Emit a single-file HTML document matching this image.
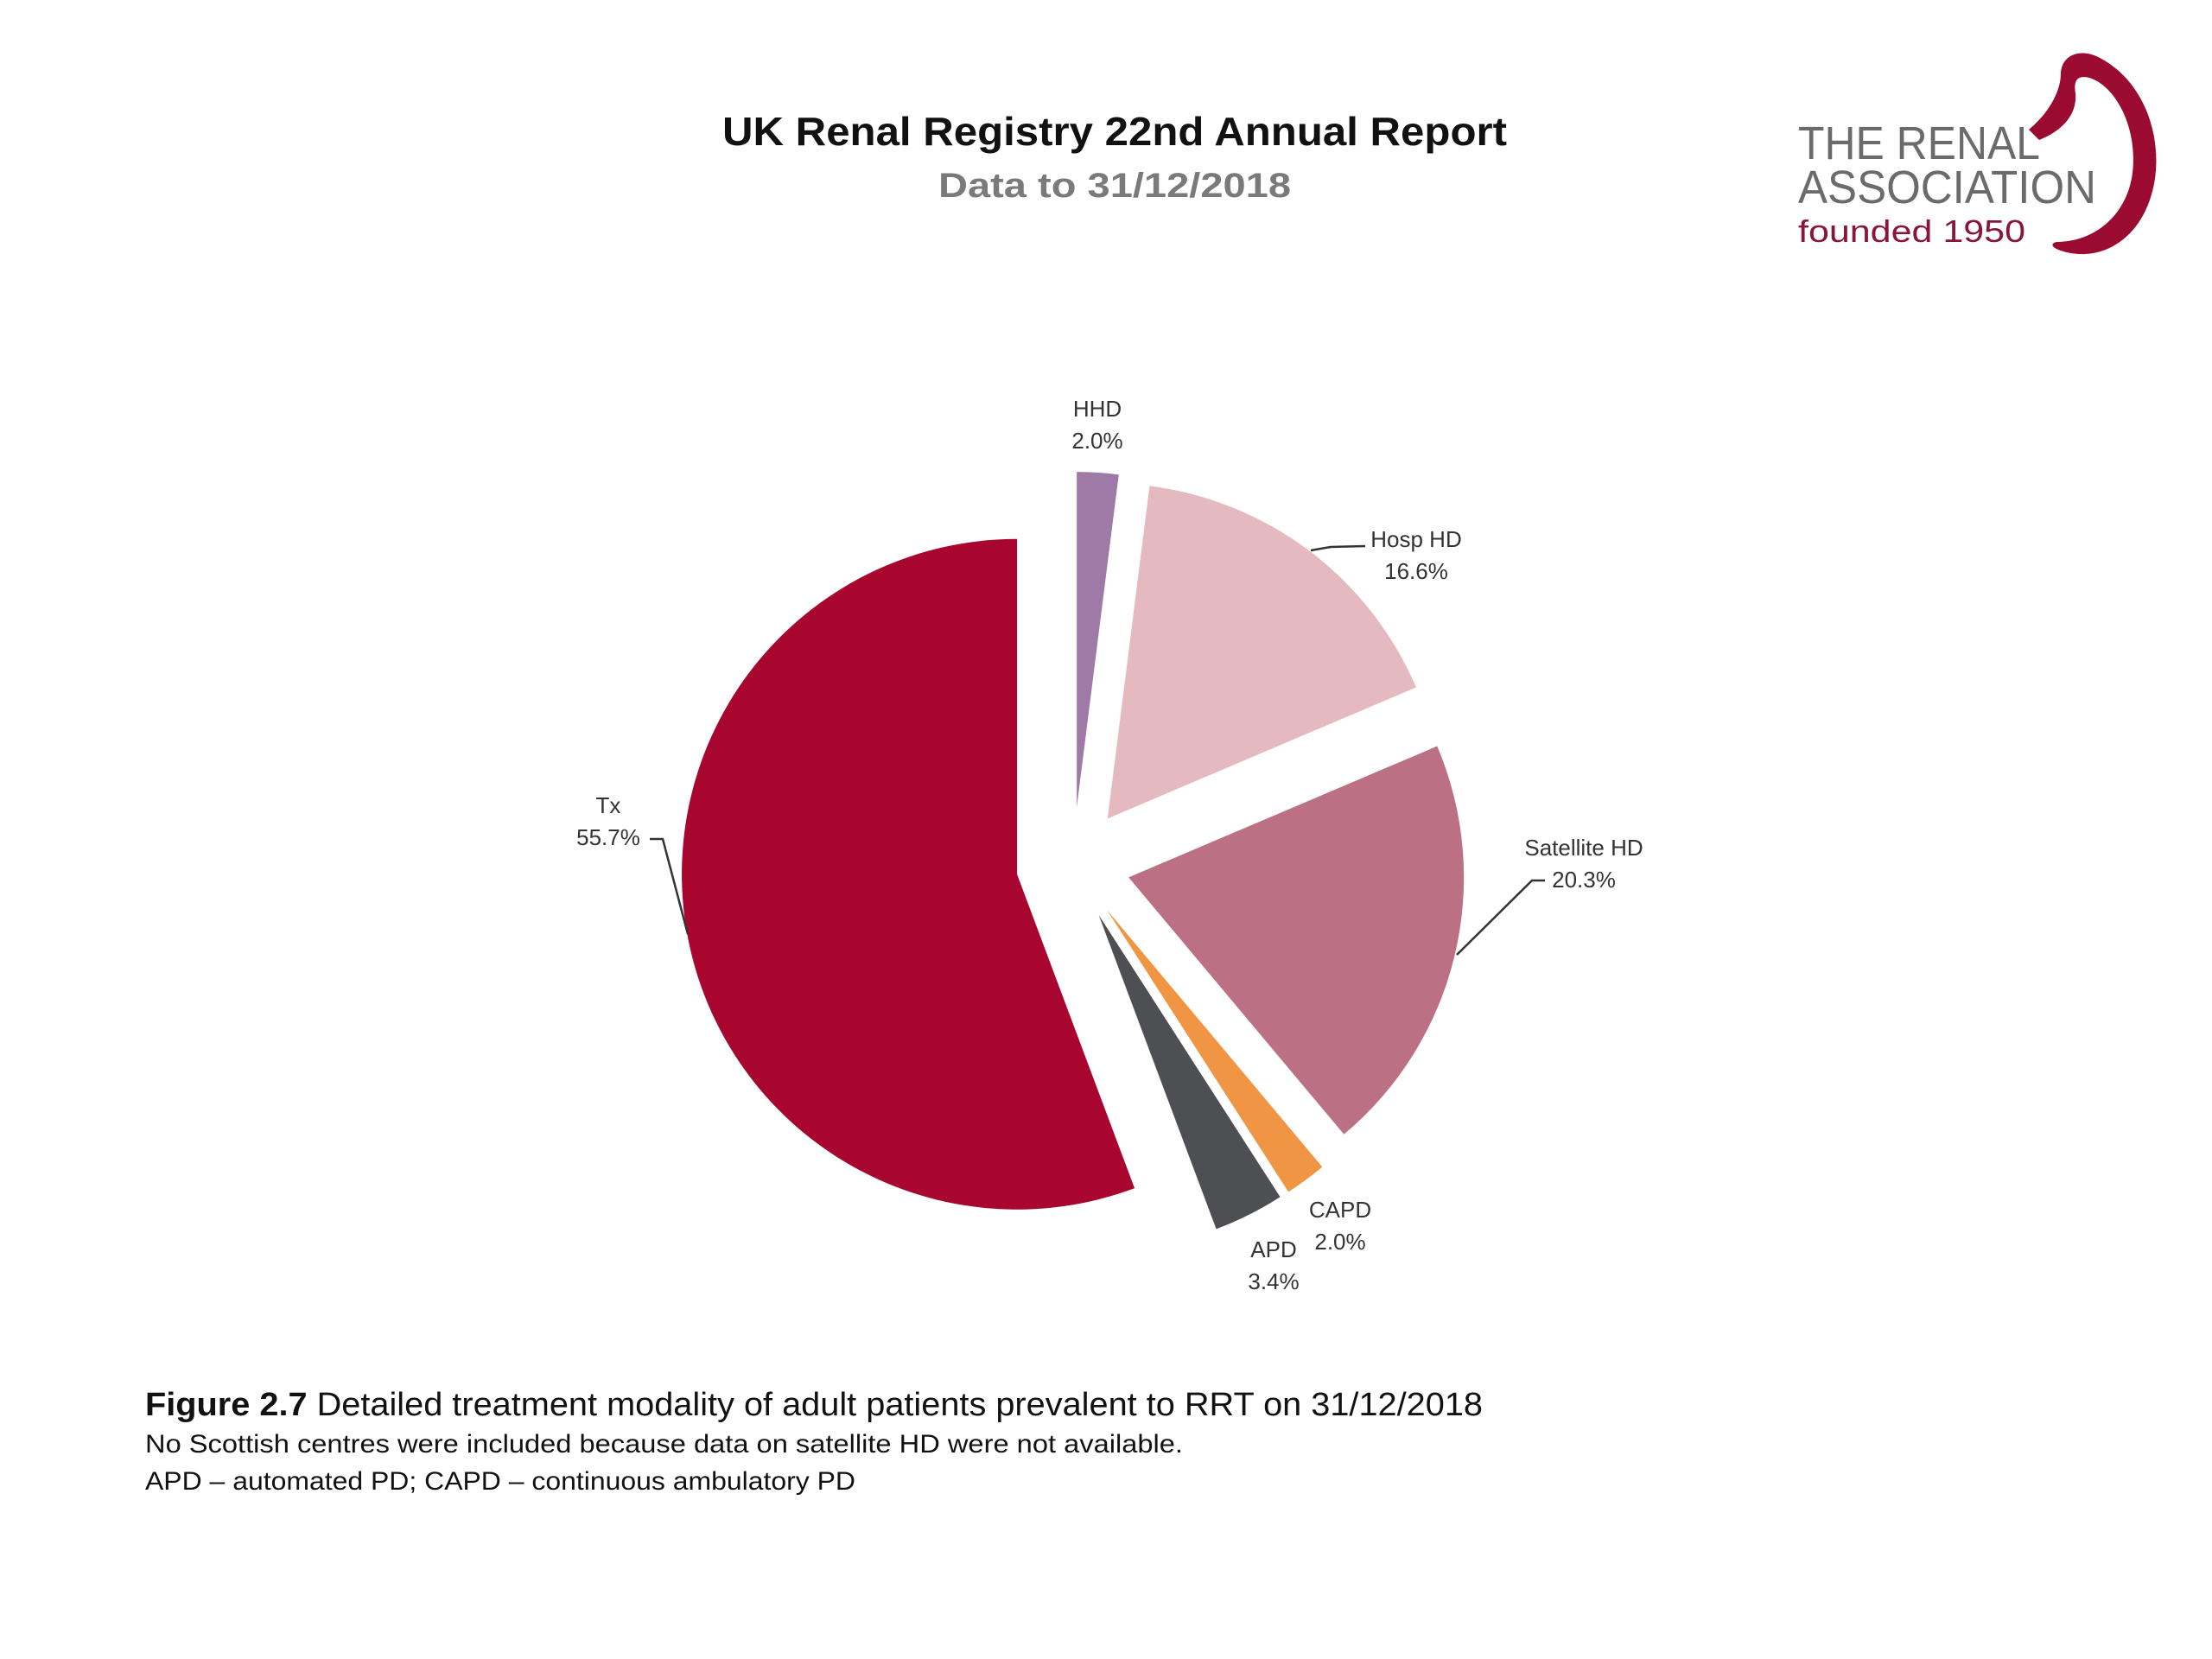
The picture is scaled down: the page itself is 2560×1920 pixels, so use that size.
<!DOCTYPE html>
<html><head><meta charset="utf-8"><style>
html,body{margin:0;padding:0;background:#fff;}
svg{display:block;font-family:"Liberation Sans",sans-serif;}
</style></head><body>
<svg id="chart" width="2560" height="1920" viewBox="0 0 2560 1920" xmlns="http://www.w3.org/2000/svg">
<rect width="2560" height="1920" fill="#fff"/>
<text x="1290" y="168" font-size="46" font-weight="bold" text-anchor="middle" textLength="908" lengthAdjust="spacingAndGlyphs" fill="#111">UK Renal Registry 22nd Annual Report</text>
<text x="1290" y="228" font-size="40" font-weight="bold" text-anchor="middle" textLength="408" lengthAdjust="spacingAndGlyphs" fill="#7a7a7a">Data to 31/12/2018</text>
<g>
<path d="M2348,150 C2372,130 2385,105 2385,85 C2386,62 2410,55 2432,68 C2490,100 2505,175 2490,225 C2475,278 2430,305 2385,290 C2375,287 2372,282 2380,280 C2425,280 2462,248 2468,200 C2474,150 2450,100 2418,90 C2402,86 2400,96 2402,108 C2404,130 2390,150 2360,162 Z" fill="#9b0a30"/>
<text x="2081" y="184" font-size="54" textLength="280" lengthAdjust="spacingAndGlyphs" fill="#6b6b6b">THE RENAL</text>
<text x="2081" y="235" font-size="54" textLength="345" lengthAdjust="spacingAndGlyphs" fill="#6b6b6b">ASSOCIATION</text>
<text x="2081" y="280" font-size="36" textLength="263" lengthAdjust="spacingAndGlyphs" fill="#8a1538">founded 1950</text>
</g>
<g id="pie"></g>
<g id="labels" font-size="26" fill="#333" text-anchor="middle"></g>
<g stroke="#333" stroke-width="2.5" fill="none">
<polyline points="752,971 767,971 796,1081"/>
<polyline points="1517,637 1540,633 1580,632"/>
<polyline points="1686,1105 1773,1019 1788,1019"/>
</g>
<g fill="#111">
<text x="168" y="1638" font-size="38" textLength="1548" lengthAdjust="spacingAndGlyphs"><tspan font-weight="bold">Figure 2.7</tspan> Detailed treatment modality of adult patients prevalent to RRT on 31/12/2018</text>
<text x="168" y="1681" font-size="30" textLength="1201" lengthAdjust="spacingAndGlyphs">No Scottish centres were included because data on satellite HD were not available.</text>
<text x="168" y="1724" font-size="30" textLength="822" lengthAdjust="spacingAndGlyphs">APD – automated PD; CAPD – continuous ambulatory PD</text>
</g>
</svg>
<script>
const categories = ["HHD", "Hosp HD", "Satellite HD", "CAPD", "APD", "Tx"];
const values = [2.0, 16.6, 20.3, 2.0, 3.4, 55.7];
const valueLabels = ["2.0%", "16.6%", "20.3%", "2.0%", "3.4%", "55.7%"];
const colors = ["#a07aa6", "#e4bac0", "#bc7084", "#ef9544", "#4d4f53", "#a8062f"];
const labelPos = [[1270,482],[1639,633],[1833,990],[1551,1409],[1474,1455],[704,941]];

const NS = "http://www.w3.org/2000/svg";
const cx = 1242, cy = 1000, R = 388, EXPL = 66;
const total = values.reduce((a,b)=>a+b,0);
function angleOf(v){ return v/total*2*Math.PI; }
function pt(x,y,a,r){ return [x+r*Math.sin(a), y-r*Math.cos(a)]; }
const pie = document.getElementById('pie');
const labels = document.getElementById('labels');
let start = 0;
values.forEach((v,i)=>{
  const sweep = angleOf(v);
  const end = start + sweep;
  const mid = (start+end)/2;
  const ox = cx + EXPL*Math.sin(mid), oy = cy - EXPL*Math.cos(mid);
  const p1 = pt(ox,oy,start,R), p2 = pt(ox,oy,end,R);
  const large = sweep > Math.PI ? 1 : 0;
  const path = document.createElementNS(NS,'path');
  path.setAttribute('d', `M${ox},${oy} L${p1[0]},${p1[1]} A${R},${R} 0 ${large} 1 ${p2[0]},${p2[1]} Z`);
  path.setAttribute('fill', colors[i]);
  
  
  pie.appendChild(path);
  const [lx, ly] = labelPos[i];
  const t1 = document.createElementNS(NS,'text');
  t1.setAttribute('x', lx); t1.setAttribute('y', ly);
  t1.textContent = categories[i];
  
  
  labels.appendChild(t1);
  const t2 = document.createElementNS(NS,'text');
  t2.setAttribute('x', lx); t2.setAttribute('y', ly+37);
  t2.textContent = valueLabels[i];
  
  
  labels.appendChild(t2);
  start = end;
});
</script>
</body></html>
